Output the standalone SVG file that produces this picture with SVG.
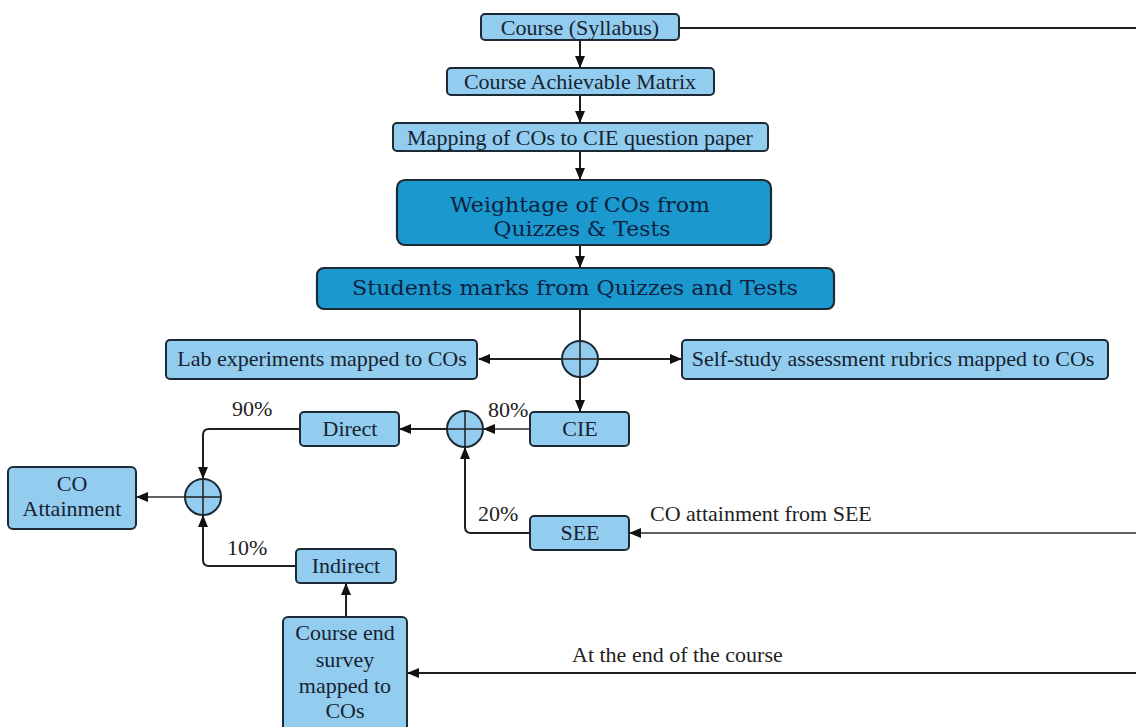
<svg xmlns="http://www.w3.org/2000/svg" width="1136" height="727" viewBox="0 0 1136 727">
<defs>
<style>
.lb{fill:#92cdef;stroke:#1d2a35;stroke-width:2}
.db{fill:#1b99cf;stroke:#1d2a35;stroke-width:2.2}
.t{font-family:"Liberation Serif","Times New Roman",serif;font-size:22px;fill:#18222f;text-anchor:middle}
.dt{font-family:"DejaVu Serif","Liberation Serif",serif;font-size:21px;fill:#0e1f40;text-anchor:middle}
.lbl{font-family:"Liberation Serif","Times New Roman",serif;font-size:22px;fill:#222}
.c{stroke:#1f1f1f;stroke-width:2;fill:none}
.thin{stroke:#2a2a2a;stroke-width:1.3;fill:none}
.sum{fill:#92cdef;stroke:#1d2a35;stroke-width:2}
.x{stroke:#1f1f1f;stroke-width:1.5}
</style>
<marker id="ah" markerWidth="12" markerHeight="10" refX="11" refY="5" orient="auto" markerUnits="userSpaceOnUse">
<path d="M0,0 L12,5 L0,10 z" fill="#111"/>
</marker>
</defs>
<rect width="1136" height="727" fill="#ffffff"/>

<g id="connectors">
<path class="c" d="M679,28 H1136"/>
<path class="c" d="M580,40 V67" marker-end="url(#ah)"/>
<path class="c" d="M580,95 V122" marker-end="url(#ah)"/>
<path class="c" d="M580,151 V179" marker-end="url(#ah)"/>
<path class="c" d="M580,245 V267" marker-end="url(#ah)"/>
<path class="c" d="M580,309 V411" marker-end="url(#ah)"/>
<path class="c" d="M580,359 H479" marker-end="url(#ah)"/>
<path class="c" d="M580,359 H681" marker-end="url(#ah)"/>
<path class="thin" d="M530,429 H484" marker-end="url(#ah)"/>
<path class="c" d="M447,429 H400" marker-end="url(#ah)"/>
<path class="c" d="M300,429 H209 Q203,429 203,435 V478" marker-end="url(#ah)"/>
<path class="thin" d="M185,497 H137" marker-end="url(#ah)"/>
<path class="c" d="M530,533 H471 Q465,533 465,527 V448" marker-end="url(#ah)"/>
<path class="thin" d="M1136,533 H630" marker-end="url(#ah)"/>
<path class="c" d="M296,566 H209 Q203,566 203,560 V516" marker-end="url(#ah)"/>
<path class="c" d="M346,617 V584" marker-end="url(#ah)"/>
<path class="c" d="M1136,673 H408" marker-end="url(#ah)"/>
<text class="lbl" x="232" y="416">90%</text>
<text class="lbl" x="488" y="417">80%</text>
<text class="lbl" x="478" y="521">20%</text>
<text class="lbl" x="227" y="555">10%</text>
<text class="lbl" x="650" y="521">CO attainment from SEE</text>
<text class="lbl" x="572" y="662">At the end of the course</text>
</g>

<g id="course-syllabus">
<rect class="lb" x="481" y="14" width="198" height="26" rx="4"/>
<text class="t" x="580" y="35">Course (Syllabus)</text>
</g>
<g id="course-matrix">
<rect class="lb" x="447" y="68" width="267" height="27" rx="4"/>
<text class="t" x="580" y="89">Course Achievable Matrix</text>
</g>
<g id="mapping">
<rect class="lb" x="393" y="123" width="375" height="28" rx="4"/>
<text class="t" x="580" y="145">Mapping of COs to CIE question paper</text>
</g>
<g id="weightage">
<rect class="db" x="397" y="180" width="374" height="65" rx="8"/>
<text class="dt" x="580" y="212" textLength="260" lengthAdjust="spacingAndGlyphs">Weightage of COs from</text>
<text class="dt" x="582" y="236" textLength="177" lengthAdjust="spacingAndGlyphs">Quizzes &amp; Tests</text>
</g>
<g id="students-marks">
<rect class="db" x="317" y="268" width="517" height="41" rx="7"/>
<text class="dt" x="575" y="295" textLength="446" lengthAdjust="spacingAndGlyphs">Students marks from Quizzes and Tests</text>
</g>
<g id="sum-top">
<circle class="sum" cx="580" cy="359" r="18"/>
<path class="x" d="M562,359 H598 M580,341 V377"/>
</g>
<g id="lab">
<rect class="lb" x="166" y="340" width="311" height="39" rx="4"/>
<text class="t" x="322" y="366">Lab experiments mapped to COs</text>
</g>
<g id="self-study">
<rect class="lb" x="682" y="340" width="426" height="39" rx="4"/>
<text class="t" x="893" y="366">Self-study assessment rubrics mapped to COs</text>
</g>
<g id="cie">
<rect class="lb" x="530" y="412" width="99" height="34" rx="4"/>
<text class="t" x="580" y="436">CIE</text>
</g>
<g id="sum-mid">
<circle class="sum" cx="465" cy="429" r="18"/>
<path class="x" d="M447,429 H483 M465,411 V447"/>
</g>
<g id="direct">
<rect class="lb" x="300" y="412" width="99" height="34" rx="4"/>
<text class="t" x="350" y="436">Direct</text>
</g>
<g id="sum-left">
<circle class="sum" cx="203" cy="497" r="18"/>
<path class="x" d="M185,497 H221 M203,479 V515"/>
</g>
<g id="co-attainment">
<rect class="lb" x="8" y="467" width="128" height="62" rx="5"/>
<text class="t" x="72" y="491">CO</text>
<text class="t" x="72" y="516">Attainment</text>
</g>
<g id="see">
<rect class="lb" x="530" y="516" width="99" height="34" rx="4"/>
<text class="t" x="580" y="540">SEE</text>
</g>
<g id="indirect">
<rect class="lb" x="296" y="549" width="100" height="34" rx="4"/>
<text class="t" x="346" y="573">Indirect</text>
</g>
<g id="survey">
<rect class="lb" x="283" y="617" width="124" height="122" rx="5"/>
<text class="t" x="345" y="640">Course end</text>
<text class="t" x="345" y="667">survey</text>
<text class="t" x="345" y="693">mapped to</text>
<text class="t" x="345" y="718">COs</text>
</g>
</svg>
